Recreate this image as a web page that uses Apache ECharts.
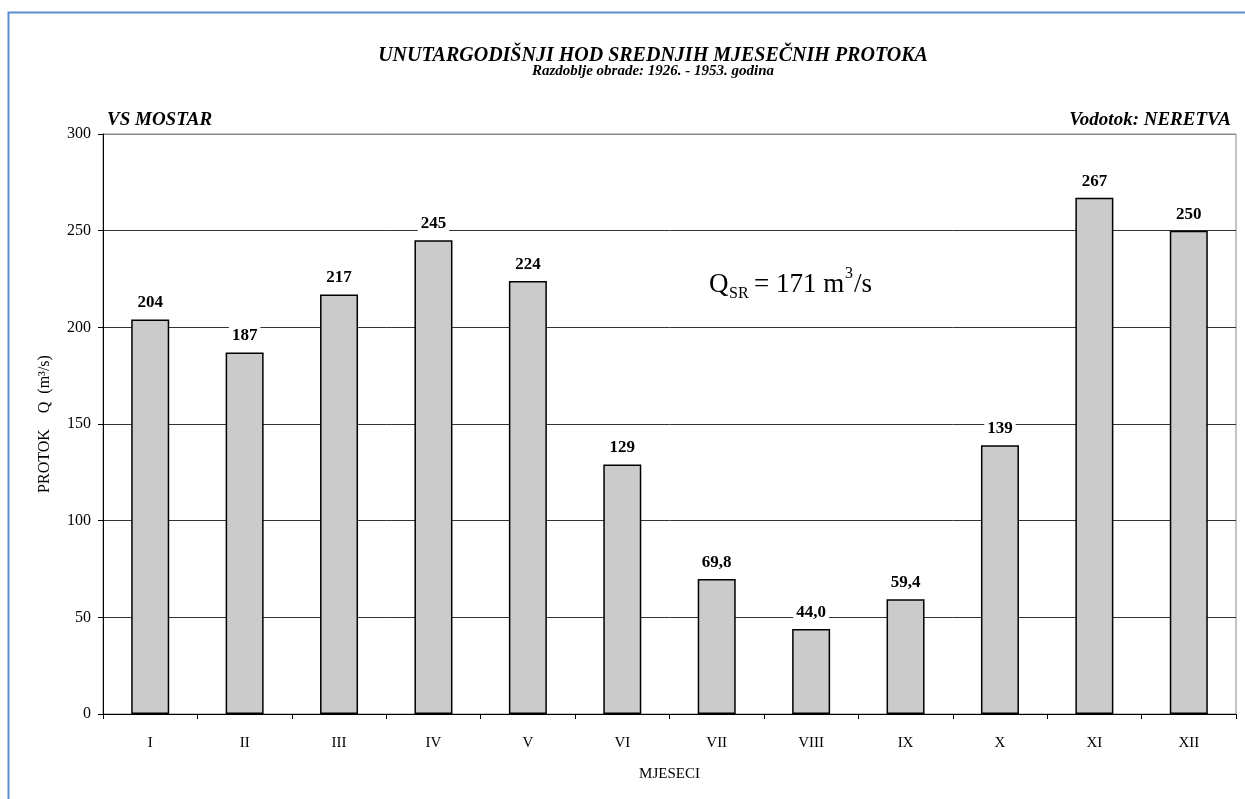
<!DOCTYPE html>
<html>
<head>
<meta charset="utf-8">
<script src="https://cdn.jsdelivr.net/npm/echarts@6/dist/echarts.min.js"></script>
<style>
html,body{margin:0;padding:0;background:#fff;}
#chart{width:1245px;height:799px;}
</style>
</head>
<body>
<div id="chart"></div>
<script>
var categories = ['I','II','III','IV','V','VI','VII','VIII','IX','X','XI','XII'];
var values = [204, 187, 217, 245, 224, 129, 69.8, 44.0, 59.4, 139, 267, 250];
var valueLabels = ['204','187','217','245','224','129','69,8','44,0','59,4','139','267','250'];
var yTicks = {min: 0, max: 300, interval: 50};

var FONT = '"Liberation Serif", "Times New Roman", serif';
var chart = echarts.init(document.getElementById('chart'));
var option = {
  animation: false,
  backgroundColor: '#fff',
  textStyle: {fontFamily: FONT},
  title: [
    {text: 'UNUTARGODIŠNJI HOD SREDNJIH MJESEČNIH PROTOKA', left: 648, top: 41, textAlign: 'center',
     textStyle: {fontFamily: FONT, fontSize: 20, fontWeight: 'bold', fontStyle: 'italic', color: '#000'}},
    {text: 'Razdoblje obrade: 1926. - 1953. godina', left: 648, top: 59, textAlign: 'center',
     textStyle: {fontFamily: FONT, fontSize: 15, fontWeight: 'bold', fontStyle: 'italic', color: '#000'}}
  ],
  grid: {left: 103, right: 9, top: 134, bottom: 85, show: true, borderColor: '#888', borderWidth: 1, backgroundColor: 'transparent'},
  xAxis: {
    type: 'category',
    data: categories,
    name: 'MJESECI',
    nameLocation: 'middle',
    nameGap: 53,
    nameTextStyle: {fontFamily: FONT, fontSize: 15, color: '#000'},
    axisLine: {lineStyle: {color: '#000', width: 1}},
    axisTick: {show: true, alignWithLabel: false, length: 5, inside: false, lineStyle: {color: '#000'}},
    axisLabel: {fontFamily: FONT, fontSize: 15, color: '#000', margin: 22},
    splitLine: {show: false}
  },
  yAxis: {
    type: 'value',
    min: yTicks.min, max: yTicks.max, interval: yTicks.interval,
    name: 'PROTOK    Q  (m³/s)',
    nameLocation: 'middle',
    nameGap: 50,
    nameRotate: 90,
    nameTextStyle: {fontFamily: FONT, fontSize: 16, color: '#000'},
    axisLine: {show: true, lineStyle: {color: '#000', width: 1}},
    axisTick: {show: true, length: 5, lineStyle: {color: '#000'}},
    axisLabel: {fontFamily: FONT, fontSize: 16, color: '#000', margin: 12},
    splitLine: {show: true, lineStyle: {color: ['#000','#333','#333','#333','#333','#333','#888'], width: 1}}
  },
  series: [{
    type: 'bar',
    data: values,
    barWidth: 38,
    itemStyle: {color: '#cbcbcb', borderColor: '#000', borderWidth: 1.5},
    label: {
      show: true, position: 'top', distance: 7,
      formatter: function (p) { return valueLabels[p.dataIndex]; },
      fontFamily: FONT, fontSize: 17, fontWeight: 'bold', color: '#000',
      backgroundColor: '#fff', padding: [1, 3]
    }
  }],
  graphic: [
    {type: 'rect', shape: {x: 8.5, y: 12.5, width: 1300, height: 900}, style: {fill: 'none', stroke: '#5b8fd0', lineWidth: 2}, silent: true},
    {type: 'text', left: 107, top: 111, style: {text: 'VS MOSTAR', font: 'italic bold 19px ' + FONT, fill: '#000'}},
    {type: 'text', right: 14, top: 111, style: {text: 'Vodotok: NERETVA', font: 'italic bold 19px ' + FONT, fill: '#000', textAlign: 'right'}},
    {type: 'text', left: 709, top: 271, style: {text: 'Q', font: '27px ' + FONT, fill: '#000'}},
    {type: 'text', left: 729, top: 286, style: {text: 'SR', font: '16px ' + FONT, fill: '#000'}},
    {type: 'text', left: 754, top: 271, style: {text: '= 171 m', font: '27px ' + FONT, fill: '#000'}},
    {type: 'text', left: 845, top: 266, style: {text: '3', font: '16px ' + FONT, fill: '#000'}},
    {type: 'text', left: 854, top: 271, style: {text: '/s', font: '27px ' + FONT, fill: '#000'}}
  ]
};
chart.setOption(option);
</script>
</body>
</html>
